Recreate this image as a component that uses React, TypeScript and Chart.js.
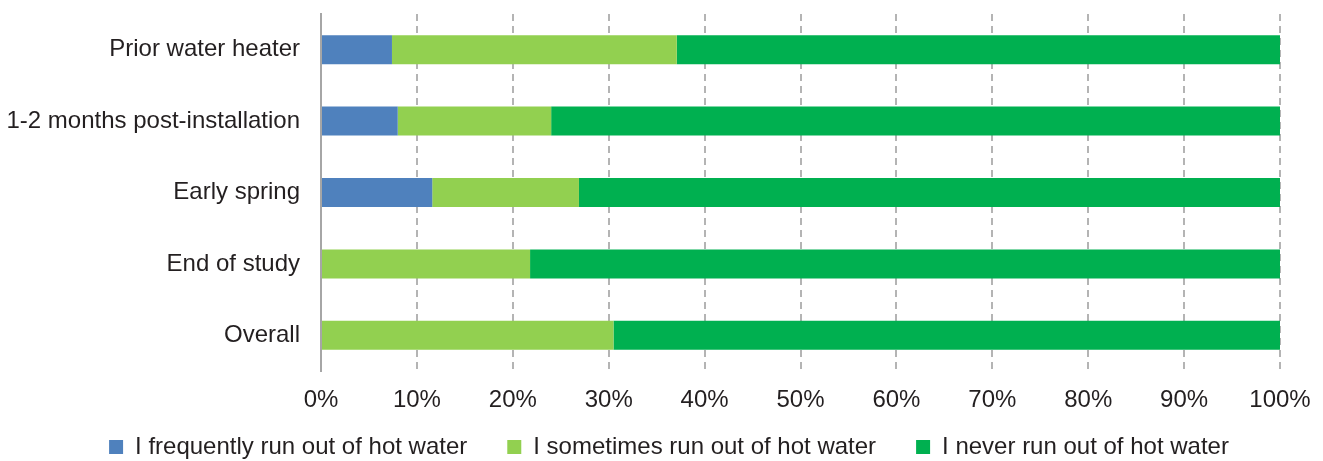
import React, { useEffect, useRef } from "react";
import { Chart, registerables } from "chart.js";

Chart.register(...registerables);

const categories = [
  "Prior water heater",
  "1-2 months post-installation",
  "Early spring",
  "End of study",
  "Overall",
];
const frequently = [7.4, 8.0, 11.6, 0, 0];
const sometimes = [29.7, 16.0, 15.3, 21.8, 30.5];
const never = [62.9, 76.0, 73.1, 78.2, 69.5];
const seriesNames = [
  "I frequently run out of hot water",
  "I sometimes run out of hot water",
  "I never run out of hot water",
];
const seriesColors = ["#4F81BD", "#92D050", "#00B050"];

const legendShift = {
  id: "legendShift",
  afterLayout(chart: any) {
    const lg = chart.legend;
    if (!lg) return;
    lg.top -= 20;
    lg.bottom -= 20;
    lg.left += 25;
    lg.right += 25;
  },
};

export default function App() {
  const ref = useRef<HTMLCanvasElement | null>(null);
  useEffect(() => {
    if (!ref.current) return;
    const font = "'Liberation Sans', Arial, sans-serif";
    const textColor = "#231F20";
    const values = [frequently, sometimes, never];
    const chart = new Chart(ref.current, {
      type: "bar",
      data: {
        labels: categories,
        datasets: seriesNames.map((name, i) => ({
          label: name,
          data: values[i],
          backgroundColor: seriesColors[i],
          borderWidth: 0,
          barPercentage: 0.406,
          categoryPercentage: 1,
        })),
      },
      plugins: [legendShift],
      options: {
        indexAxis: "y",
        animation: false,
        responsive: true,
        maintainAspectRatio: false,
        layout: { padding: { left: 8, right: 43, top: 14, bottom: -28 } },
        plugins: {
          legend: {
            position: "bottom",
            labels: {
              font: { family: font, size: 24 },
              color: textColor,
              boxWidth: 14,
              boxHeight: 14,
              padding: 40,
            },
          },
          tooltip: { enabled: false },
        },
        scales: {
          x: {
            stacked: true,
            min: 0,
            max: 100,
            ticks: {
              stepSize: 10,
              callback: (v: any) => v + "%",
              font: { family: font, size: 24 },
              color: textColor,
              padding: 15,
            },
            grid: {
              color: (ctx: any) => (ctx.tick && ctx.tick.value === 0 ? "rgba(0,0,0,0)" : "#B4B4B4"),
              lineWidth: 2,
              drawTicks: false,
            },
            border: { display: false, dash: [7, 5] },
            afterFit: (scale: any) => {
              scale.height = 44;
              scale.paddingLeft = 0;
              scale.paddingRight = 0;
            },
          },
          y: {
            stacked: true,
            ticks: {
              font: { family: font, size: 24 },
              color: textColor,
              padding: 13,
            },
            grid: { display: false },
            border: { display: true, color: "#A6A6A6", width: 2 },
            afterFit: (scale: any) => {
              scale.width = 313;
              scale.paddingTop = 0;
              scale.paddingBottom = 0;
            },
          },
        },
      },
    } as any);
    return () => chart.destroy();
  }, []);
  return (
    <div style={{ position: "absolute", left: 0, top: 0, width: 1323, height: 461 }}>
      <canvas ref={ref} />
    </div>
  );
}
